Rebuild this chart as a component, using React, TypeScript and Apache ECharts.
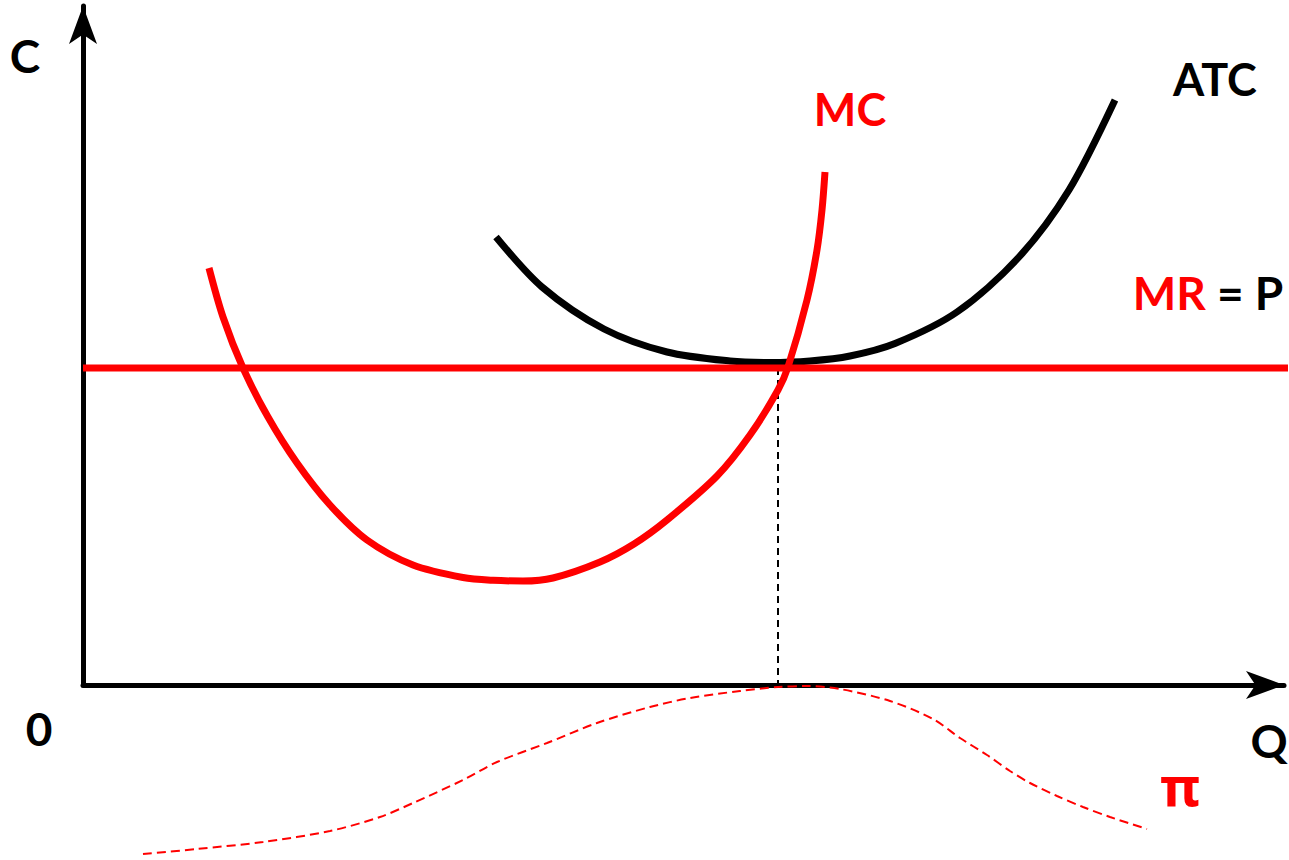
import React, { useEffect, useRef } from "react";
import * as echarts from "echarts";

// Units: Q and C in "chart units" (1 unit = 100 px of the reference)
const mrLevel = 3.17;
const mrQ = [0, 12.06];

const mcQ = [1.26, 1.4, 1.6, 1.85, 2.14, 2.47, 2.84, 3.3, 3.8, 4.1, 4.4, 4.7, 5.17, 5.51, 5.84, 6.34, 6.67, 6.95, 7.05, 7.24, 7.34, 7.39, 7.42];
const mcC = [4.17, 3.68, 3.17, 2.68, 2.22, 1.8, 1.45, 1.2, 1.075, 1.047, 1.04, 1.07, 1.23, 1.41, 1.65, 2.09, 2.5, 2.95, 3.18, 3.85, 4.35, 4.75, 5.13];

const atcQ = [4.13, 4.59, 5.21, 5.84, 6.47, 6.87, 7.27, 7.67, 8.12, 8.74, 9.36, 9.86, 10.32];
const atcC = [4.48, 3.98, 3.56, 3.33, 3.24, 3.225, 3.24, 3.29, 3.415, 3.73, 4.28, 4.95, 5.85];

const qStar = 6.95;

const profitQ = [0.6, 1.14, 1.8, 2.47, 2.97, 3.3, 3.8, 4.14, 4.64, 5.14, 5.67, 6.07, 6.57, 6.95, 7.24, 7.57, 8.07, 8.5, 8.77, 9.04, 9.27, 9.47, 9.74, 10.0, 10.27, 10.64];
const profitV = [-1.69, -1.64, -1.57, -1.46, -1.32, -1.18, -0.95, -0.77, -0.58, -0.38, -0.22, -0.13, -0.06, -0.02, -0.01, -0.04, -0.16, -0.34, -0.53, -0.7, -0.86, -0.98, -1.11, -1.22, -1.32, -1.44];

const xMax = 12.01;
const yMax = 6.79;
const profitMin = -1.75;

const RED = "#ff0000";
const BLACK = "#000000";
const FONT = "Lato, 'Noto Sans', sans-serif";
const SMOOTH = 0.3;

const zip = (a: number[], b: number[]) => a.map((v, i) => [v, b[i]]);

export default function App() {
  const ref = useRef<HTMLDivElement>(null);
  useEffect(() => {
    if (!ref.current) return;
    const chart = echarts.init(ref.current, undefined, { renderer: "svg" });
    const axisLine = {
      show: true,
      onZero: false,
      symbol: ["none", "arrow"],
      symbolSize: [21, 38],
      lineStyle: { color: BLACK, width: 5 },
    };
    const txt = (text: string, x: number, y: number, fill: string, size: number, family = FONT) => ({
      type: "text",
      x,
      y,
      silent: true,
      style: {
        text,
        fill,
        font: `bold ${size}px ${family}`,
        align: "center",
        verticalAlign: "middle",
        textAlign: "center",
        textVerticalAlign: "middle",
      },
    });
    chart.setOption({
      animation: false,
      backgroundColor: "#ffffff",
      grid: [
        { left: 83, top: 6, width: 1201, height: 679 },
        { left: 83, top: 685, width: 1201, height: 175 },
      ],
      xAxis: [
        {
          gridIndex: 0,
          type: "value",
          min: 0,
          max: xMax,
          axisLine,
          axisTick: { show: false },
          axisLabel: { show: false },
          splitLine: { show: false },
        },
        { gridIndex: 1, type: "value", min: 0, max: xMax, show: false },
      ],
      yAxis: [
        {
          gridIndex: 0,
          type: "value",
          min: 0,
          max: yMax,
          axisLine,
          axisTick: { show: false },
          axisLabel: { show: false },
          splitLine: { show: false },
        },
        { gridIndex: 1, type: "value", min: profitMin, max: 0, show: false },
      ],
      series: [
        {
          name: "ATC",
          type: "line",
          xAxisIndex: 0,
          yAxisIndex: 0,
          data: zip(atcQ, atcC),
          smooth: SMOOTH,
          symbol: "none",
          lineStyle: { color: BLACK, width: 7 },
          z: 2,
        },
        {
          name: "MR = P",
          type: "line",
          xAxisIndex: 0,
          yAxisIndex: 0,
          data: mrQ.map((q) => [q, mrLevel]),
          clip: false,
          symbol: "none",
          lineStyle: { color: RED, width: 7 },
          z: 3,
        },
        {
          name: "MC",
          type: "line",
          xAxisIndex: 0,
          yAxisIndex: 0,
          data: zip(mcQ, mcC),
          smooth: SMOOTH,
          symbol: "none",
          lineStyle: { color: RED, width: 7 },
          z: 4,
        },
        {
          name: "Q*",
          type: "line",
          xAxisIndex: 0,
          yAxisIndex: 0,
          data: [
            [qStar, mrLevel],
            [qStar, 0],
          ],
          symbol: "none",
          lineStyle: { color: BLACK, width: 2, type: [7, 5] },
          z: 2,
        },
        {
          name: "π",
          type: "line",
          xAxisIndex: 1,
          yAxisIndex: 1,
          data: zip(profitQ, profitV),
          smooth: SMOOTH,
          clip: false,
          symbol: "none",
          lineStyle: { color: RED, width: 2, type: [9, 5] },
          z: 5,
        },
      ],
      graphic: [
        txt("C", 25, 55, BLACK, 46),
        txt("0", 39, 728, BLACK, 46),
        txt("Q", 1269, 740, BLACK, 46),
        txt("ATC", 1215, 79, BLACK, 45),
        txt("MC", 850, 109, RED, 45),
        {
          type: "text",
          x: 1208,
          y: 292,
          silent: true,
          style: {
            text: "{r|MR}{k| = P}",
            align: "center",
            verticalAlign: "middle",
            textAlign: "center",
            textVerticalAlign: "middle",
            font: `bold 46px ${FONT}`,
            rich: {
              r: { fill: RED, color: RED, font: `bold 46px ${FONT}` },
              k: { fill: BLACK, color: BLACK, font: `bold 46px ${FONT}` },
            },
          },
        },
        txt("π", 1180, 785, RED, 54, "'Noto Sans', 'DejaVu Sans', sans-serif"),
      ],
    });
    return () => chart.dispose();
  }, []);
  return (
    <div
      ref={ref}
      style={{ position: "absolute", left: 0, top: 0, width: 1289, height: 860 }}
    />
  );
}
